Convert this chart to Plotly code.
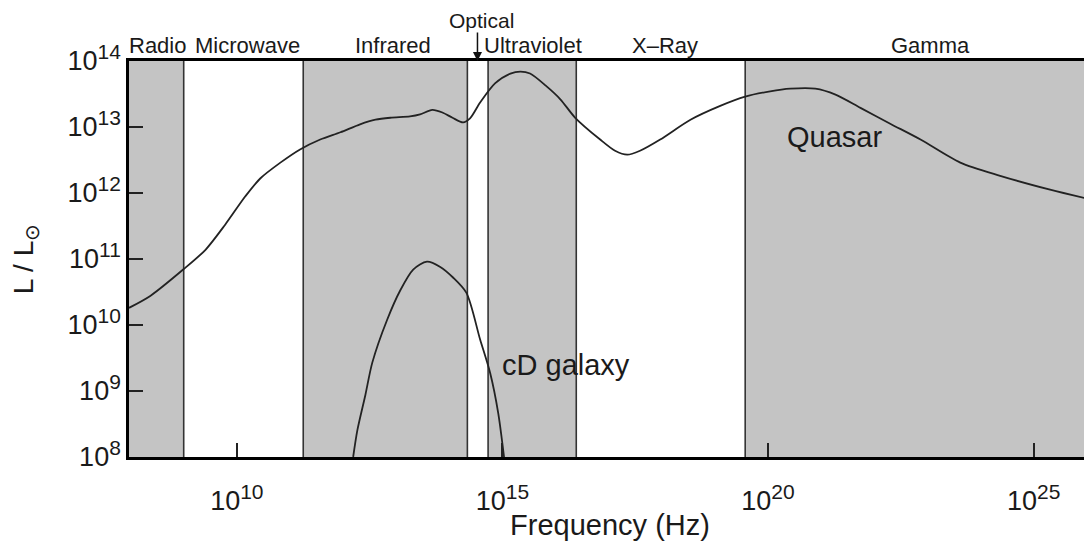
import plotly.graph_objects as go

# ---- data (log10 of frequency in Hz, log10 of L/Lsun) ----
quasar_logf = [7.97, 8.37, 8.99, 9.41, 9.78, 10.16, 10.44, 10.82, 11.19, 11.57, 11.95,
               12.32, 12.61, 12.89, 13.26, 13.45, 13.68, 13.87, 14.06, 14.26, 14.39,
               14.58, 14.86, 15.15, 15.34, 15.52, 15.81, 16.09, 16.37, 16.84, 17.12,
               17.35, 17.59, 17.97, 18.54, 19.10, 19.57, 20.04, 20.42, 20.89, 21.27,
               21.74, 22.30, 22.87, 23.62, 24.37, 25.31, 26.08]
quasar_logL = [10.26, 10.44, 10.84, 11.14, 11.52, 11.95, 12.22, 12.46, 12.66, 12.81, 12.92,
               13.04, 13.11, 13.14, 13.16, 13.19, 13.26, 13.22, 13.14, 13.07, 13.13,
               13.37, 13.66, 13.81, 13.84, 13.81, 13.63, 13.42, 13.14, 12.81, 12.64,
               12.58, 12.64, 12.81, 13.11, 13.32, 13.46, 13.54, 13.58, 13.58, 13.49,
               13.29, 13.05, 12.81, 12.46, 12.26, 12.05, 11.90]

cd_logf = [12.19, 12.27, 12.42, 12.55, 12.83, 13.08, 13.32, 13.58, 13.83, 14.07,
           14.32, 14.58, 14.77, 14.92, 15.03]
cd_logL = [8.00, 8.41, 8.94, 9.43, 10.08, 10.53, 10.84, 10.96, 10.88, 10.72,
           10.49, 9.78, 9.27, 8.67, 8.00]

# band boundaries (log10 Hz)
band_edges = [9.0, 11.25, 14.34, 14.73, 16.39, 19.57]
gray_bands = [(7.0, 9.0), (11.25, 14.34), (14.73, 16.39), (19.57, 27.0)]
band_names = ["Radio", "Microwave", "Infrared", "Ultraviolet", "X\u2013Ray", "Gamma"]
band_label_pos = [8.50, 10.21, 12.94, 15.58, 18.06, 23.05]

x_tick_exp = [10, 15, 20, 25]
y_tick_exp = [8, 9, 10, 11, 12, 13, 14]

x_range = [7.97, 26.08]
y_range = [8, 14]

FONT = "Liberation Sans, Arial, Helvetica, sans-serif"
TXT = "#1a1a1a"
GRAY = "#c4c4c4"


def p10(v):
    return 10.0 ** float(v)


fig = go.Figure()

ylo, yhi = p10(y_range[0]), p10(y_range[1])
for a, b in gray_bands:
    fig.add_trace(go.Scatter(
        x=[p10(a), p10(a), p10(b), p10(b), p10(a)],
        y=[ylo, yhi, yhi, ylo, ylo],
        fill="toself", fillcolor=GRAY, mode="lines",
        line=dict(width=0), hoverinfo="skip", showlegend=False))

for e in band_edges:
    fig.add_trace(go.Scatter(
        x=[p10(e), p10(e)], y=[ylo, yhi], mode="lines",
        line=dict(color="#333333", width=1.6), hoverinfo="skip", showlegend=False))

fig.add_trace(go.Scatter(
    x=[p10(v) for v in quasar_logf], y=[p10(v) for v in quasar_logL],
    mode="lines", line=dict(color="#222222", width=1.8, shape="spline", smoothing=0.8),
    name="Quasar", showlegend=False))

fig.add_trace(go.Scatter(
    x=[p10(v) for v in cd_logf], y=[p10(v) for v in cd_logL],
    mode="lines", line=dict(color="#222222", width=1.8, shape="spline", smoothing=0.8),
    name="cD galaxy", showlegend=False))

axis_common = dict(
    type="log", showline=True, linecolor="black", linewidth=2.5, mirror=True,
    ticks="inside", ticklen=14, tickwidth=1.5, tickcolor="#222222",
    showgrid=False, zeroline=False, automargin=False,
    tickfont=dict(family=FONT, size=27, color=TXT),
)


def sup_label(e):
    return f"10<sup><span style='font-size:21px'>{e}</span></sup>"


# the page body has an 8px margin; figure is sized so the page fits the window
fig.update_layout(
    template="none",
    width=1084, height=533,
    margin=dict(l=121, r=1, t=53, b=84),
    plot_bgcolor="white", paper_bgcolor="white",
    xaxis=dict(
        **axis_common,
        range=x_range,
        tickvals=[p10(e) for e in x_tick_exp],
        ticktext=[sup_label(e) for e in x_tick_exp],
        ticklabelstandoff=18,
        title=dict(text="Frequency (Hz)", font=dict(family=FONT, size=29, color=TXT), standoff=8),
    ),
    yaxis=dict(
        **axis_common,
        range=y_range,
        tickvals=[p10(e) for e in y_tick_exp],
        ticktext=[sup_label(e) for e in y_tick_exp],
        ticklabelstandoff=0,
        title=dict(text="L / L<sub>\u2299</sub>", font=dict(family=FONT, size=28, color=TXT), standoff=28),
    ),
)

# band labels above the plot
for name, pos in zip(band_names, band_label_pos):
    fig.add_annotation(x=pos, y=1.038, xref="x", yref="paper", text=name,
                       showarrow=False, xanchor="center", yanchor="middle",
                       font=dict(family=FONT, size=22, color=TXT))

fig.add_annotation(x=14.60, y=1.1035, xref="x", yref="paper", text="Optical",
                   showarrow=False, xanchor="center", yanchor="middle",
                   font=dict(family=FONT, size=21, color=TXT))
fig.add_annotation(x=14.53, y=1.0, xref="x", yref="paper", text="",
                   showarrow=True, ax=0, ay=-30, arrowhead=2, arrowsize=1.2,
                   arrowwidth=1.5, arrowcolor="#111111", standoff=0)

fig.add_annotation(x=20.32, y=12.85, xref="x", yref="y", text="Quasar",
                   showarrow=False, xanchor="left", yanchor="middle",
                   font=dict(family=FONT, size=29, color=TXT))
fig.add_annotation(x=14.96, y=9.39, xref="x", yref="y", text="cD galaxy",
                   showarrow=False, xanchor="left", yanchor="middle",
                   font=dict(family=FONT, size=29, color=TXT))

fig.write_html("out.html")
